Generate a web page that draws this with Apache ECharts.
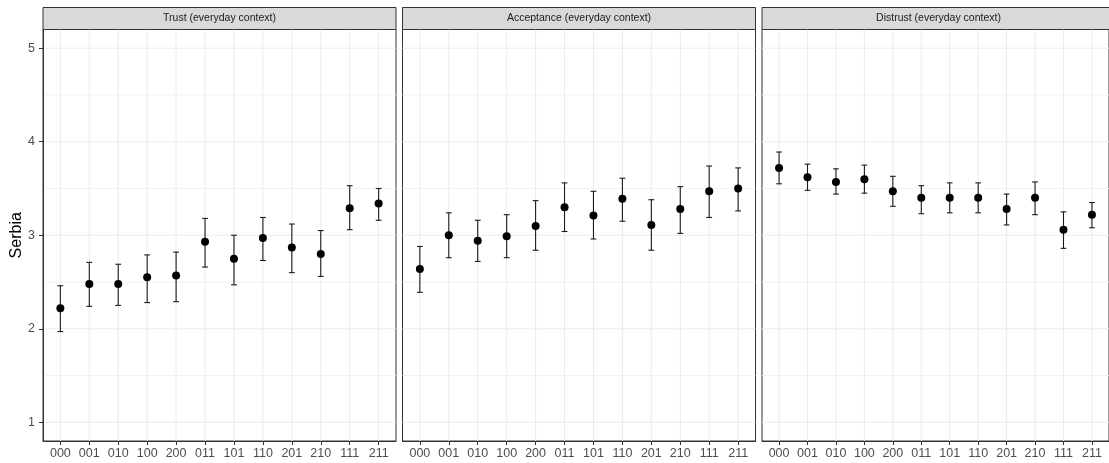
<!DOCTYPE html>
<html>
<head>
<meta charset="utf-8">
<script src="https://cdn.jsdelivr.net/npm/echarts@6/dist/echarts.min.js"></script>
<style>
  html, body { margin: 0; padding: 0; background: #fff; }
  #chart { width: 1109px; height: 463px; }
</style>
</head>
<body>
<div id="chart"></div>
<script>
// Scenario codes on the x axis
const categories = ['000', '001', '010', '100', '200', '011', '101', '110', '201', '210', '111', '211'];

// Panel titles
const panelTitles = ['Trust (everyday context)', 'Acceptance (everyday context)', 'Distrust (everyday context)'];

// Trust: means and interval bounds
const trustMean = [2.22, 2.48, 2.48, 2.55, 2.57, 2.93, 2.75, 2.97, 2.87, 2.80, 3.29, 3.34];
const trustLow  = [1.97, 2.24, 2.25, 2.28, 2.29, 2.66, 2.47, 2.73, 2.60, 2.56, 3.06, 3.16];
const trustHigh = [2.46, 2.71, 2.69, 2.79, 2.82, 3.18, 3.00, 3.19, 3.12, 3.05, 3.53, 3.50];

// Acceptance
const acceptMean = [2.64, 3.00, 2.94, 2.99, 3.10, 3.30, 3.21, 3.39, 3.11, 3.28, 3.47, 3.50];
const acceptLow  = [2.39, 2.76, 2.72, 2.76, 2.84, 3.04, 2.96, 3.15, 2.84, 3.02, 3.19, 3.26];
const acceptHigh = [2.88, 3.24, 3.16, 3.22, 3.37, 3.56, 3.47, 3.61, 3.38, 3.52, 3.74, 3.72];

// Distrust
const distrustMean = [3.72, 3.62, 3.57, 3.60, 3.47, 3.40, 3.40, 3.40, 3.28, 3.40, 3.06, 3.22];
const distrustLow  = [3.55, 3.48, 3.44, 3.45, 3.31, 3.23, 3.24, 3.24, 3.11, 3.22, 2.86, 3.08];
const distrustHigh = [3.89, 3.76, 3.71, 3.75, 3.63, 3.53, 3.56, 3.56, 3.44, 3.57, 3.25, 3.35];

// Y axis ticks and minor grid positions
const yTicks = [1, 2, 3, 4, 5];
const yMinor = [1.5, 2.5, 3.5, 4.5];
const yTitle = 'Serbia';

const panels = [
  { mean: trustMean, low: trustLow, high: trustHigh },
  { mean: acceptMean, low: acceptLow, high: acceptHigh },
  { mean: distrustMean, low: distrustLow, high: distrustHigh }
];

const FONT = '"Liberation Sans", Arial, sans-serif';
const panelLeft = [43, 402.5, 762];
const panelWidth = 353;
const panelTop = 29.5;
const panelHeight = 411.5;
const stripTop = 7.5;
const stripHeight = 22;

const catIdx = categories.map((_, i) => i);

const grids = [], xAxes = [], yAxes = [], series = [], graphics = [];

// Background grid: horizontal lines (major + minor) and vertical lines at each category
function gridLineSeries(k) {
  const rows = [];
  yMinor.forEach(v => rows.push([NaN, v, 0]));
  yTicks.forEach(v => rows.push([NaN, v, 1]));
  catIdx.forEach(v => rows.push([v, NaN, 1]));
  return {
    type: 'custom', xAxisIndex: k, yAxisIndex: k, z: 0, silent: true, clip: true,
    data: rows,
    encode: { x: 0, y: 1 },
    renderItem: (params, api) => {
      const cs = params.coordSys;
      const xv = api.value(0), yv = api.value(1), major = api.value(2);
      const style = { stroke: major ? '#ebebeb' : '#f3f3f3', lineWidth: 1 };
      if (!isNaN(yv)) {
        const y = api.coord([0, yv])[1];
        return { type: 'line', shape: { x1: cs.x, y1: y, x2: cs.x + cs.width, y2: y }, style };
      }
      const x = api.coord([xv, 1])[0];
      return { type: 'line', shape: { x1: x, y1: cs.y, x2: x, y2: cs.y + cs.height }, style };
    }
  };
}

panels.forEach((p, k) => {
  grids.push({
    left: panelLeft[k], top: panelTop, width: panelWidth, height: panelHeight,
    show: true, borderColor: '#333333', borderWidth: 1, backgroundColor: '#ffffff',
    containLabel: false
  });
  xAxes.push({
    type: 'value', gridIndex: k, min: -0.6, max: categories.length - 1 + 0.6,
    axisLine: { show: true, onZero: false, lineStyle: { color: '#333333', width: 1 } },
    splitLine: { show: false },
    minorTick: { show: false }, minorSplitLine: { show: false },
    axisTick: { show: true, customValues: catIdx, length: 4, lineStyle: { color: '#333333', width: 1 } },
    axisLabel: {
      show: true, customValues: catIdx, margin: 6,
      formatter: v => categories[Math.round(v)] || '',
      color: '#4d4d4d', fontSize: 12.5, fontFamily: FONT
    }
  });
  yAxes.push({
    type: 'value', gridIndex: k, min: 0.8, max: 5.2,
    axisLine: { show: k === 0, onZero: false, lineStyle: { color: '#333333', width: 1 } },
    splitLine: { show: false },
    minorTick: { show: false }, minorSplitLine: { show: false },
    axisTick: { show: k === 0, customValues: yTicks, length: 4, lineStyle: { color: '#333333', width: 1 } },
    axisLabel: {
      show: k === 0, customValues: yTicks, margin: 8,
      color: '#4d4d4d', fontSize: 12.5, fontFamily: FONT
    },
    name: k === 0 ? yTitle : '',
    nameLocation: 'middle', nameGap: 17, nameRotate: 90,
    nameTextStyle: { color: '#000000', fontSize: 16, fontFamily: FONT }
  });

  series.push(gridLineSeries(k));

  // Error bars
  series.push({
    type: 'custom', xAxisIndex: k, yAxisIndex: k, z: 2, silent: true,
    data: catIdx.map(i => [i, p.low[i], p.high[i]]),
    encode: { x: 0, y: [1, 2] },
    renderItem: (params, api) => {
      const x = api.value(0), lo = api.value(1), hi = api.value(2);
      const top = api.coord([x, hi]);
      const bot = api.coord([x, lo]);
      const capL = api.coord([x - 0.1, hi])[0];
      const capR = api.coord([x + 0.1, hi])[0];
      const style = { stroke: '#1a1a1a', lineWidth: 1.1 };
      return {
        type: 'group',
        children: [
          { type: 'line', shape: { x1: top[0], y1: top[1], x2: bot[0], y2: bot[1] }, style },
          { type: 'line', shape: { x1: capL, y1: top[1], x2: capR, y2: top[1] }, style },
          { type: 'line', shape: { x1: capL, y1: bot[1], x2: capR, y2: bot[1] }, style }
        ]
      };
    }
  });

  // Means
  series.push({
    type: 'scatter', xAxisIndex: k, yAxisIndex: k, z: 3, silent: true,
    data: catIdx.map(i => [i, p.mean[i]]),
    symbol: 'circle', symbolSize: 8,
    itemStyle: { color: '#000000', opacity: 1 }
  });

  // Facet strip
  graphics.push({
    type: 'rect', silent: true,
    shape: { x: panelLeft[k], y: stripTop, width: panelWidth, height: stripHeight },
    style: { fill: '#d9d9d9', stroke: '#333333', lineWidth: 1 }
  });
  graphics.push({
    type: 'text', silent: true,
    x: panelLeft[k] + panelWidth / 2, y: stripTop + stripHeight / 2,
    style: {
      text: panelTitles[k], fill: '#1a1a1a', fontSize: 10.5, fontFamily: FONT,
      align: 'center', verticalAlign: 'middle'
    }
  });
});

const chart = echarts.init(document.getElementById('chart'), null, { renderer: 'canvas' });
chart.setOption({
  animation: false,
  backgroundColor: '#ffffff',
  grid: grids,
  xAxis: xAxes,
  yAxis: yAxes,
  series: series,
  graphic: graphics
});
</script>
</body>
</html>
